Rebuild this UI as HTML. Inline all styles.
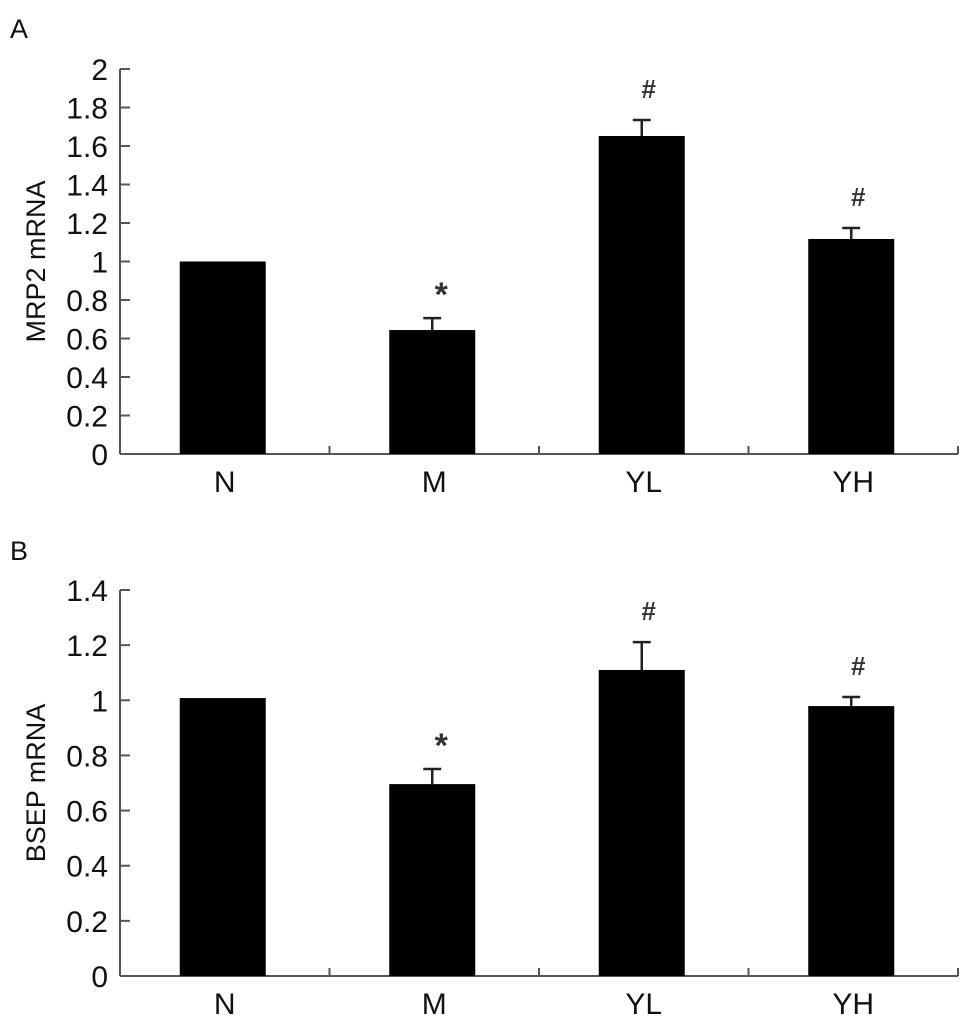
<!DOCTYPE html>
<html><head><meta charset="utf-8"><style>
html,body{margin:0;padding:0;background:#fff;}
svg{display:block;font-family:"Liberation Sans",Arial,sans-serif;}
</style></head><body>
<svg id="fig" width="969" height="1023" viewBox="0 0 969 1023"></svg>
<script>
const categories = ["N","M","YL","YH"];
const mrp2Values = [1.0, 0.644, 1.652, 1.117];
const mrp2Errors = [0, 0.062, 0.083, 0.057];
const mrp2Marks = ["", "*", "#", "#"];
const mrp2Ticks = ["0","0.2","0.4","0.6","0.8","1","1.2","1.4","1.6","1.8","2"];
const bsepValues = [1.008, 0.696, 1.11, 0.979];
const bsepErrors = [0, 0.055, 0.101, 0.033];
const bsepMarks = ["", "*", "#", "#"];
const bsepTicks = ["0","0.2","0.4","0.6","0.8","1","1.2","1.4"];

const NS = "http://www.w3.org/2000/svg";
const svg = document.getElementById("fig");
function mk(tag, attrs, parent){const e=document.createElementNS(NS,tag);for(const k in attrs)e.setAttribute(k,attrs[k]);(parent||svg).appendChild(e);return e;}

function panel(cfg){
  const g = mk("g",{});
  
  
  const x0=120, x1=958, y0=cfg.yZero, yTop=cfg.yTop, maxV=cfg.max;
  const yS = v => y0 - (v/maxV)*(y0-yTop);
  const bw = (x1-x0)/categories.length;
  const xC = i => x0 + bw*(i+0.5);
  const axisCol="#555";
  const L = mk("text",{x:10,y:cfg.letterY,"font-size":27,fill:"#111"},g); L.textContent=cfg.letter;
  
  
  const ya = mk("line",{x1:x0,y1:yTop,x2:x0,y2:y0,stroke:axisCol,"stroke-width":2},g);
  
  
  cfg.ticks.forEach(t=>{
    const v=parseFloat(t), y=yS(v);
    if(v>0){const tk=mk("line",{x1:x0,y1:y,x2:x0+10,y2:y,stroke:axisCol,"stroke-width":2},g);
      
      }
    const tx=mk("text",{x:x0-12,y:y+11,"font-size":30,"text-anchor":"end",fill:"#111"},g); tx.textContent=t;
    
    
  });
  const cy=(yTop+y0)/2;
  const yt=mk("text",{x:0,y:0,"font-size":27,"text-anchor":"middle",fill:"#111",transform:`translate(45,${cy}) rotate(-90)`},g);
  yt.textContent=cfg.title;
  
  
  const xa=mk("line",{x1:x0,y1:y0,x2:x1,y2:y0,stroke:axisCol,"stroke-width":2},g);
  
  
  for(let i=1;i<=categories.length;i++){
    const xx=x0+bw*i;
    const d=mk("line",{x1:xx,y1:y0,x2:xx,y2:y0-8,stroke:axisCol,"stroke-width":2},g);
    
    
  }
  categories.forEach((c,i)=>{
    const v=cfg.values[i], e=cfg.errors[i], cx=xC(i)-2;
    const b=mk("rect",{x:cx-43,y:yS(v),width:86,height:y0-yS(v),fill:"#000"},g);
    
    
    if(e>0){
      const ye=yS(v+e);
      const el=mk("path",{d:`M${cx},${yS(v)}V${ye}M${cx-9},${ye}H${cx+9}`,stroke:"#222","stroke-width":2.5,fill:"none"},g);
      
      
    }
    if(cfg.marks[i]){
      const isStar=cfg.marks[i]==="*";
      const m=mk("text",{x:cx+(isStar?9:7),y:yS(v+e)-(isStar?12:22),"font-size":isStar?34:26,"font-weight":"bold","text-anchor":"middle",fill:"#333"},g);
      m.textContent=cfg.marks[i];
      
      
    }
    const cl=mk("text",{x:xC(i),y:y0+38,"font-size":30,"text-anchor":"middle",fill:"#111"},g);
    cl.textContent=c;
    
    
  });
}
panel({name:"panel-a-mrp2-chart",letter:"A",letterY:38,yZero:454,yTop:69,max:2,ticks:mrp2Ticks,values:mrp2Values,errors:mrp2Errors,marks:mrp2Marks,title:"MRP2 mRNA"});
panel({name:"panel-b-bsep-chart",letter:"B",letterY:560,yZero:976,yTop:590,max:1.4,ticks:bsepTicks,values:bsepValues,errors:bsepErrors,marks:bsepMarks,title:"BSEP mRNA"});
</script>
</body></html>
